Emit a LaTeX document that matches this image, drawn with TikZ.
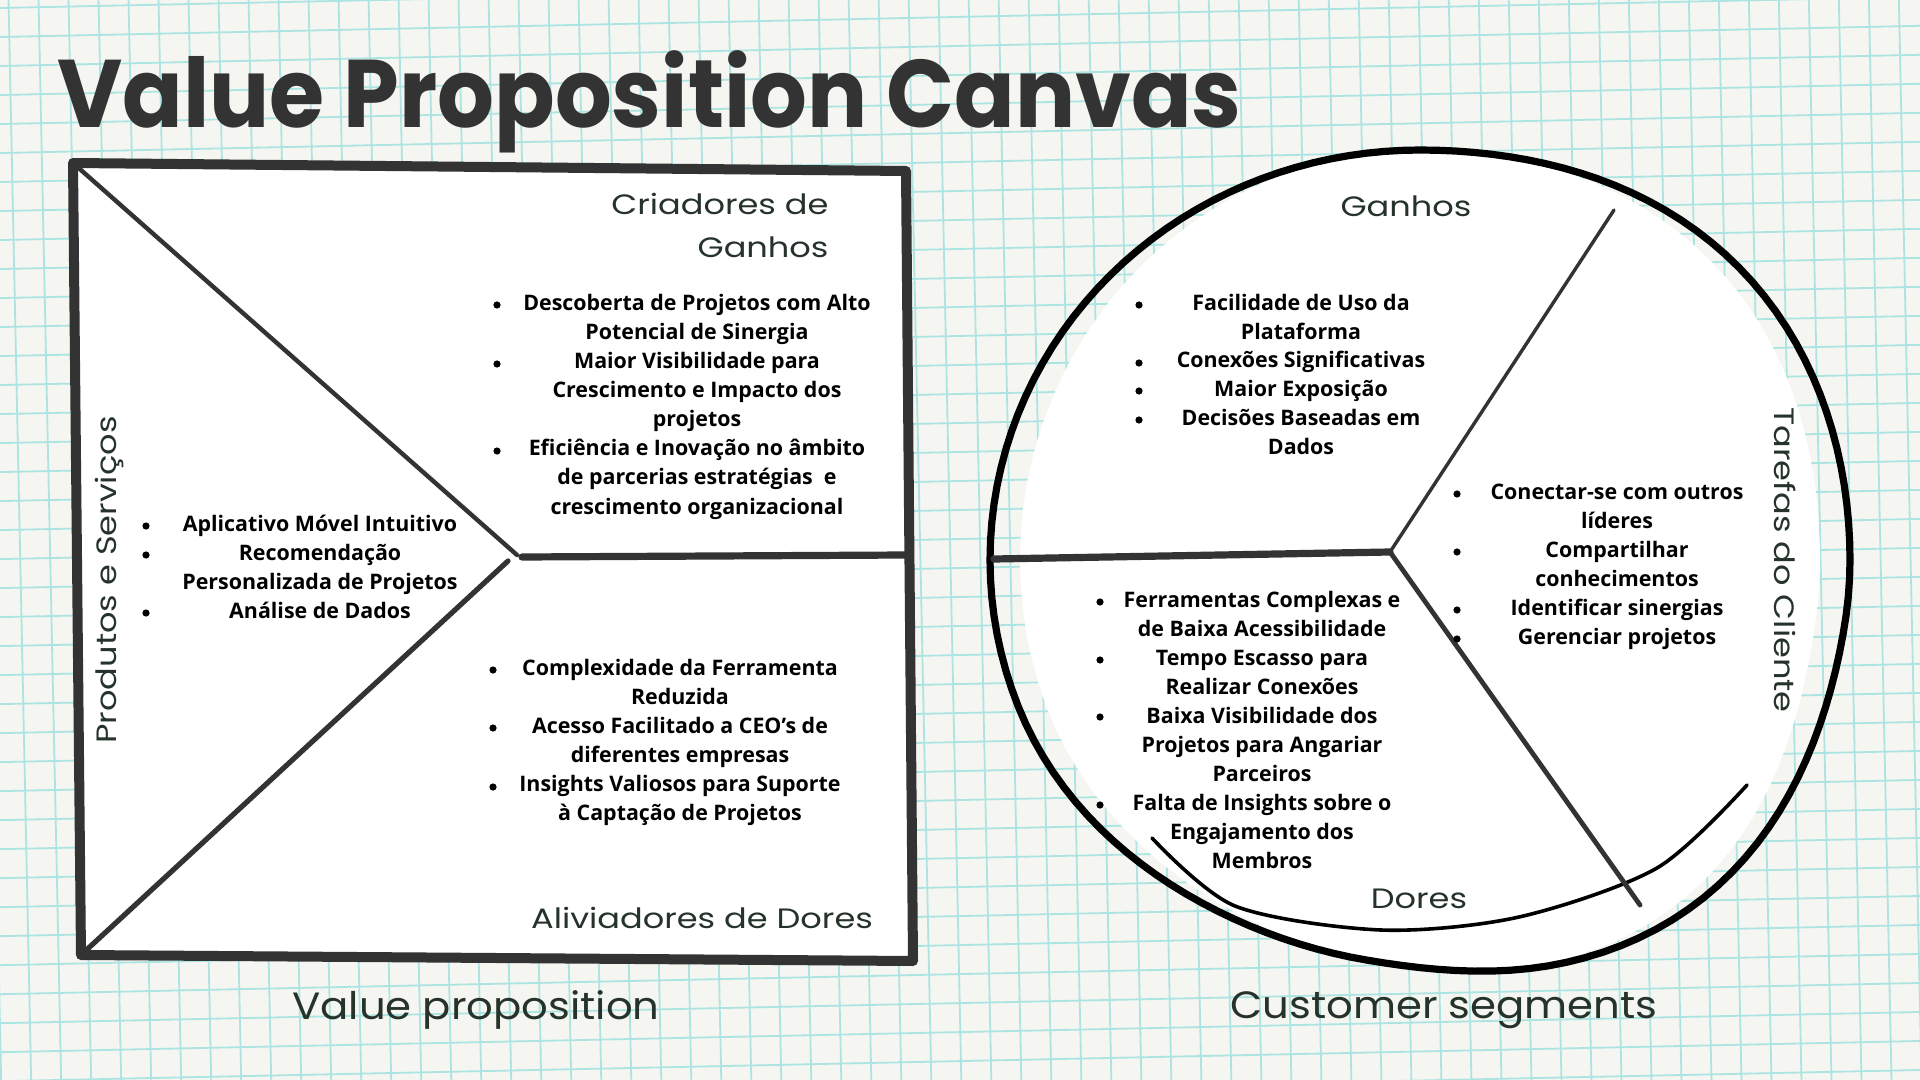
\documentclass[tikz,border=0pt]{standalone}
\usepackage{fontspec}
\setmainfont{Open Sans}
\newfontfamily\titlefont{Poppins}
\newfontfamily\handfont{Poppins}
\usetikzlibrary{positioning, calc}
\definecolor{paper}{HTML}{F5F6F2}
\definecolor{gridline}{HTML}{ACE4E1}
\definecolor{ink}{HTML}{333333}
\definecolor{leaf}{HTML}{25332A}

\begin{document}
\begin{tikzpicture}[
  x=0.5pt, y=-0.5pt,
  declare function={lump(\u)=(abs(\u)<45)*cos(2*\u)*cos(2*\u);
    rim(\t)=420+10*cos(2*\t)+23*lump(\t-53)+12*lump(\t+45)-10*lump(\t-115);},
  every node/.style={inner sep=0pt},
  body/.style={font=\bfseries\fontsize{10.7}{12}\selectfont, anchor=mid},
  dot/.style={circle, fill=black, minimum size=3.6pt},
  hand/.style={font=\handfont\fontsize{14}{16}\selectfont, text=leaf, anchor=mid, xscale=1.2},
  bighand/.style={font=\handfont\fontsize{19}{21}\selectfont, text=leaf, anchor=mid, xscale=1.1},
  frame/.style={draw=ink, line width=5pt, line join=round, line cap=round},
  split/.style={draw=ink, line width=2.2pt, line cap=round}
]
\useasboundingbox (0,0) rectangle (1920,1080);
% paper
\fill[paper] (0,0) rectangle (1920,1080);
\begin{scope}[rotate around={1.2:(960,540)}]
\foreach \gx in {-70,-40,...,1990} \draw[gridline, line width=0.9pt] (\gx,-60) -- (\gx,1140);
\foreach \gy in {-70,-41,...,1150} \draw[gridline, line width=0.9pt] (-60,\gy) -- (1980,\gy);
\end{scope}

% title
\node[anchor=base west, xscale=0.93, font=\titlefont\bfseries\fontsize{48}{50}\selectfont, text=ink] (title) at (57,128) {Value Proposition Canvas};

% value proposition square
\coordinate (tl) at (73,163);
\coordinate (tr) at (906,171);
\coordinate (br) at (913,961);
\coordinate (bl) at (81,955);
\coordinate (apexU) at (517,555);
\coordinate (apexL) at (508,561);
\coordinate (midL) at (522,557);
\coordinate (midR) at (906,555);
\draw[frame, fill=white] (tl) -- (tr) -- (br) -- (bl) -- cycle;
\draw[split] (tl) -- (apexU);
\draw[split, line width=2.6pt] (bl) -- (apexL);
\draw[split, line width=3.6pt] (midL) -- (midR);

% customer circle
\coordinate (cc) at (1420,560);
\fill[white] plot[domain=-180:180, samples=145] ({1420+(rim(\x)-30*cos(\x)*cos(\x))*cos(\x)},{560+(rim(\x)-30*cos(\x)*cos(\x))*sin(\x)}) -- cycle;
\draw[black, line width=3.6pt, line join=round] plot[domain=-180:180, samples=145] ({1420+rim(\x)*cos(\x)},{560+rim(\x)*sin(\x)}) -- cycle;
\draw[black, line width=1.8pt, line cap=round] plot[smooth] coordinates {(1152,838) (1235,906) (1381,930) (1519,917) (1657,868) (1747,785)};
\coordinate (jn) at (1390,552);
\coordinate (cl) at (994,559);
\coordinate (cu) at (1614,210);
\coordinate (cd) at (1640,905);
\draw[split, line width=3.6pt] (cl) -- (jn);
\draw[split, line width=1.7pt] (jn) -- (cu);
\draw[split, line width=2.4pt] (jn) -- (cd);

% labels
\node[hand, anchor=mid east] (crg1) at (829,209) {Criadores de};
\node[hand, anchor=mid east] (crg2) at (829,252) {Ganhos};
\node[hand] (alv) at (702,923) {Aliviadores de Dores};
\node[rotate=90, hand] (prs) at (111,580) {Produtos e Serviços};
\node[hand] (gnh) at (1406,211) {Ganhos};
\node[rotate=-90, hand] (tar) at (1780,560) {Tarefas do Cliente};
\node[hand] (dor) at (1419,903) {Dores};
\node[bighand] (vp) at (476,1014) {Value proposition};
\node[bighand] (cs) at (1444,1013) {Customer segments};

% criadores de ganhos
\foreach \t [count=\i] in {Descoberta de Projetos com Alto, Potencial de Sinergia, Maior Visibilidade para, Crescimento e Impacto dos, projetos, Eficiência e Inovação no âmbito, de parcerias estratégias \ e, crescimento organizacional}
  \node[body] (cg-\i) at (697,{305+29.1*(\i-1)}) {\t};
\foreach \y [count=\i] in {305,364,451} \node[dot] (cg-d\i) at (497,\y) {};

% produtos e servicos
\foreach \t [count=\i] in {Aplicativo Móvel Intuitivo, Recomendação, Personalizada de Projetos, Análise de Dados}
  \node[body] (ps-\i) at (320,{526+29*(\i-1)}) {\t};
\foreach \y [count=\i] in {526,555,613} \node[dot] (ps-d\i) at (146,\y) {};

% aliviadores de dores
\foreach \t [count=\i] in {Complexidade da Ferramenta, Reduzida, Acesso Facilitado a CEO’s de, diferentes empresas, Insights Valiosos para Suporte, à Captação de Projetos}
  \node[body] (ad-\i) at (680,{670+29.1*(\i-1)}) {\t};
\foreach \y [count=\i] in {670,728,787} \node[dot] (ad-d\i) at (493,\y) {};

% ganhos
\foreach \t [count=\i] in {Facilidade de Uso da, Plataforma, Conexões Significativas, Maior Exposição, Decisões Baseadas em, Dados}
  \node[body] (gn-\i) at (1301,{305+28.8*(\i-1)}) {\t};
\foreach \y [count=\i] in {305,363,391,420} \node[dot] (gn-d\i) at (1139,\y) {};

% tarefas do cliente
\foreach \t [count=\i] in {Conectar-se com outros, líderes, Compartilhar, conhecimentos, Identificar sinergias, Gerenciar projetos}
  \node[body] (tc-\i) at (1617,{494+29*(\i-1)}) {\t};
\foreach \y [count=\i] in {494,552,610,639} \node[dot] (tc-d\i) at (1457,\y) {};

% dores
\foreach \t [count=\i] in {Ferramentas Complexas e, de Baixa Acessibilidade, Tempo Escasso para, Realizar Conexões, Baixa Visibilidade dos, Projetos para Angariar, Parceiros, Falta de Insights sobre o, Engajamento dos, Membros}
  \node[body] (dr-\i) at (1262,{602+29*(\i-1)}) {\t};
\foreach \y [count=\i] in {602,660,717,805} \node[dot] (dr-d\i) at (1100,\y) {};
\end{tikzpicture}
\end{document}
